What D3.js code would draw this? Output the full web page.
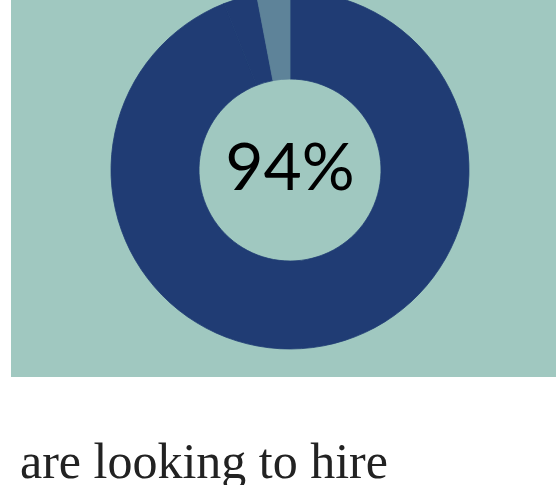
<!DOCTYPE html>
<html>
<head>
<meta charset="utf-8">
<script src="https://cdn.jsdelivr.net/npm/d3@7"></script>
<style>
  html, body { margin: 0; padding: 0; background: #ffffff; overflow: hidden; }
  svg { display: block; }
</style>
</head>
<body>
<svg id="chart" width="556" height="485"></svg>
<script>
// Survey answers: share of respondents per answer (percent)
const categories = ["Looking to hire", "Undecided", "Not looking to hire"];
const values = [94, 3, 3];
const sliceColors = ["#203c74", "#203c74", "#5e8399"];
const headline = "94%";
const caption = "are looking to hire";

const width = 556, height = 485;
const svg = d3.select("#chart");

// Panel behind the donut
svg.append("rect")
  .attr("x", 11).attr("y", 0)
  .attr("width", width - 11).attr("height", 377)
  .attr("fill", "#a0c8c0");

const cx = 290, cy = 170;
const outerR = 179, innerR = 91;

const pie = d3.pie().sort(null).value(d => d.value);
const arc = d3.arc().innerRadius(innerR).outerRadius(outerR);
const color = d3.scaleOrdinal().domain(categories).range(sliceColors);

const data = categories.map((c, i) => ({ name: c, value: values[i] }));

const g = svg.append("g").attr("transform", `translate(${cx},${cy})`);
// slices share their own colour as a hairline stroke so same-coloured
// neighbours join without a visible seam
g.selectAll("path")
  .data(pie(data))
  .join("path")
  .attr("d", arc)
  .attr("fill", d => color(d.data.name))
  .attr("stroke", d => color(d.data.name))
  .attr("stroke-width", 0.8);

g.append("text")
  .attr("x", 0).attr("y", 20)
  .attr("text-anchor", "middle")
  .attr("font-family", "Lato, sans-serif")
  .attr("font-size", 66)
  .attr("fill", "#000")
  .text(headline);

svg.append("text")
  .attr("x", 20).attr("y", 478)
  .attr("font-family", "'Liberation Serif', serif")
  .attr("font-size", 50)
  .attr("fill", "#222")
  .text(caption);
</script>
</body>
</html>
